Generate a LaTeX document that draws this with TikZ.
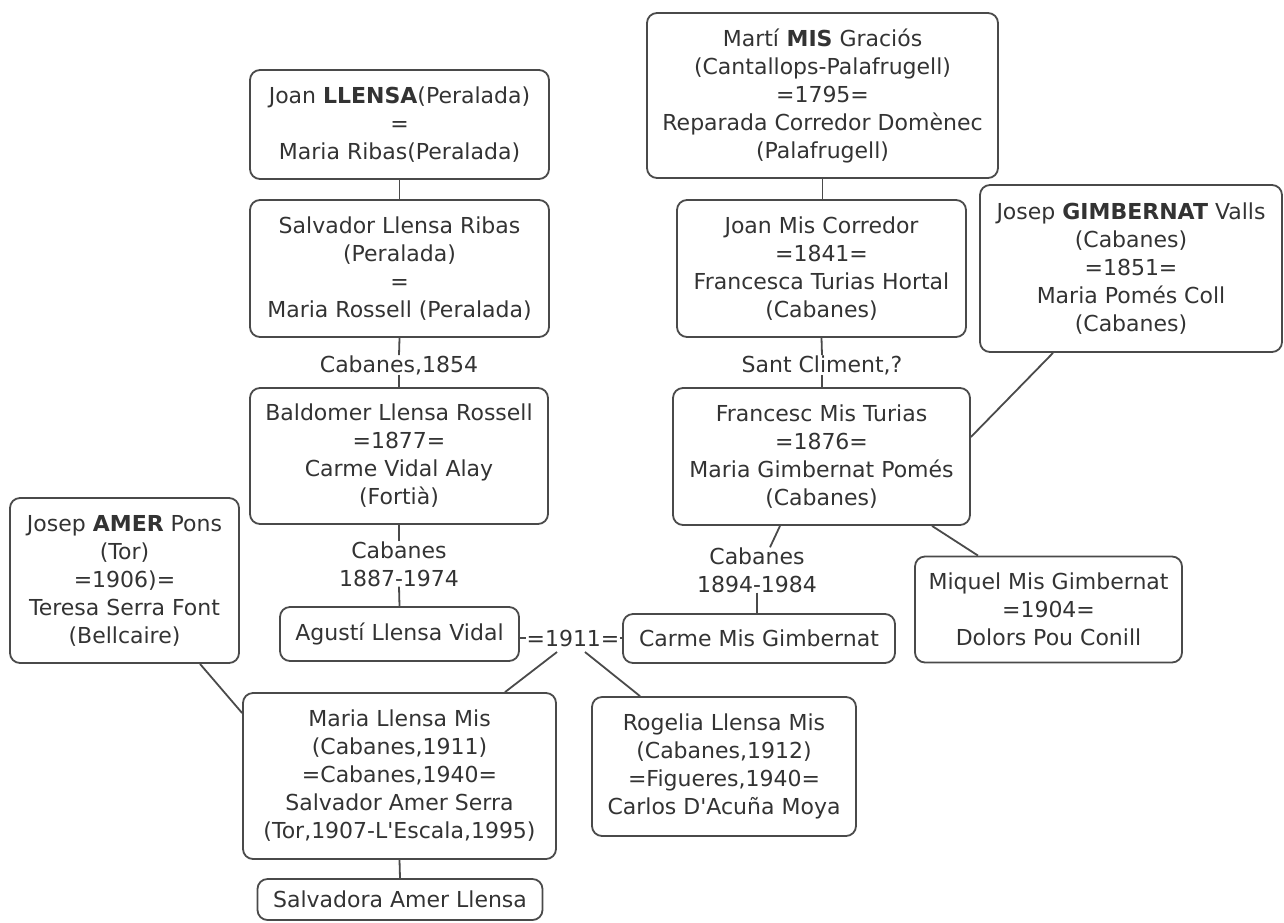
\documentclass[tikz,border=0pt]{standalone}
\usepackage{fontspec}
\setmainfont{DejaVu Sans}[Ligatures=TeXOff]
\definecolor{txt}{HTML}{333333}
\definecolor{ln}{HTML}{4A4A4A}
\begin{document}
\begin{tikzpicture}[x=1pt,y=-1pt,
  every node/.style={text=txt, font=\fontsize{22}{28}\selectfont, align=center},
  fbox/.style={draw=ln, line width=1.8pt, rounded corners=10pt, inner sep=0pt},
  lbl/.style={inner sep=0pt},
  conn/.style={draw=ln, line width=1.8pt}]
\useasboundingbox (0,0) rectangle (1284,922);
% boxes
\node[fbox, minimum width=299pt, minimum height=109pt] (A) at (399.5,124.5) {Joan \textbf{LLENSA}(Peralada)\\=\\Maria Ribas(Peralada)};
\node[fbox, minimum width=299pt, minimum height=137pt] (B) at (399.5,268.5) {Salvador Llensa Ribas\\(Peralada)\\=\\Maria Rossell (Peralada)};
\node[fbox, minimum width=298pt, minimum height=136pt] (C) at (399,456) {Baldomer Llensa Rossell\\=1877=\\Carme Vidal Alay\\(Fortià)};
\node[fbox, minimum width=239pt, minimum height=54pt] (D) at (399.5,634) {Agustí Llensa Vidal};
\node[fbox, minimum width=351pt, minimum height=165pt] (M) at (822.5,95.5) {Martí \textbf{MIS} Graciós\\(Cantallops-Palafrugell)\\=1795=\\Reparada Corredor Domènec\\(Palafrugell)};
\node[fbox, minimum width=289pt, minimum height=137pt] (JM) at (821.5,268.5) {Joan Mis Corredor\\=1841=\\Francesca Turias Hortal\\(Cabanes)};
\node[fbox, minimum width=297pt, minimum height=137pt] (F) at (821.5,456.5) {Francesc Mis Turias\\=1876=\\Maria Gimbernat Pomés\\(Cabanes)};
\node[fbox, minimum width=302pt, minimum height=167pt] (G) at (1131,268.5) {Josep \textbf{GIMBERNAT} Valls\\(Cabanes)\\=1851=\\Maria Pomés Coll\\(Cabanes)};
\node[fbox, minimum width=272pt, minimum height=49pt] (CA) at (759,638.5) {Carme Mis Gimbernat};
\node[fbox, minimum width=267pt, minimum height=106pt] (MQ) at (1048.5,609.5) {Miquel Mis Gimbernat\\=1904=\\Dolors Pou Conill};
\node[fbox, minimum width=229pt, minimum height=165pt] (AM) at (124.5,580.5) {Josep \textbf{AMER} Pons\\(Tor)\\=1906)=\\Teresa Serra Font\\(Bellcaire)};
\node[fbox, minimum width=313pt, minimum height=166pt] (ML) at (399.5,776) {Maria Llensa Mis\\(Cabanes,1911)\\=Cabanes,1940=\\Salvador Amer Serra\\(Tor,1907-L'Escala,1995)};
\node[fbox, minimum width=264pt, minimum height=139pt] (RL) at (724,766.5) {Rogelia Llensa Mis\\(Cabanes,1912)\\=Figueres,1940=\\Carlos D'Acuña Moya};
\node[fbox, minimum width=285pt, minimum height=41pt] (SA) at (400,899.5) {Salvadora Amer Llensa};
% labels
\node[lbl] (c54) at (399,365) {Cabanes,1854};
\node[lbl] (sc) at (822,365) {Sant Climent,?};
\node[lbl] (c87) at (399,564) {Cabanes\\1887-1974};
\node[lbl] (c94) at (757,570) {Cabanes\\1894-1984};
\node[lbl] (m11) at (573,638) {=1911=};
\coordinate (j1) at (557,652);
\coordinate (j2) at (585,652);
% connectors
\draw[conn] (A.south) -- (B.north);
\draw[conn] (B.south) -- (c54.north);
\draw[conn] (c54.south) -- (C.north);
\draw[conn] (C.south) -- (c87.north);
\draw[conn] (c87.south) -- (D.north);
\draw[conn] (M.south) -- (M.south |- JM.north);
\draw[conn] (JM.south) -- (sc.north);
\draw[conn] (sc.south) -- (sc.south |- F.north);
\draw[conn] ([xshift=-41.5pt]F.south) -- ([xshift=13pt]c94.north);
\draw[conn] (c94.south) -- (c94.south |- CA.north);
\draw[conn] ([xshift=110.5pt]F.south) -- ([xshift=-70.5pt]MQ.north);
\draw[conn] ([yshift=19.5pt]F.east) -- ([xshift=-78pt]G.south);
\draw[conn] (m11.west -| D.east) -- (m11.west);
\draw[conn] (m11.east) -- (m11.east -| CA.west);
\draw[conn] (j1) -- ([xshift=105.5pt]ML.north);
\draw[conn] (j2) -- ([xshift=-84pt]RL.north);
\draw[conn] ([xshift=75.5pt]AM.south) -- ([yshift=63pt]ML.west);
\draw[conn] (ML.south) -- (SA.north);
\end{tikzpicture}
\end{document}
